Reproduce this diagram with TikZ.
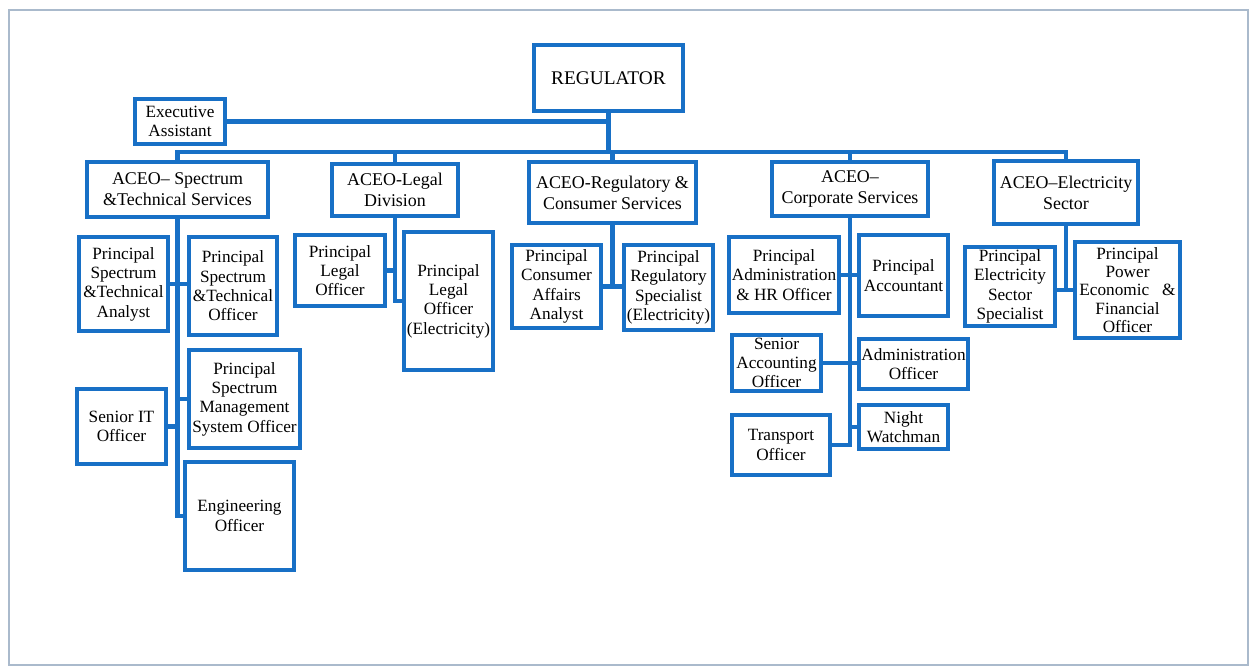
\documentclass[tikz,border=0pt]{standalone}
\usepackage{fontspec}
\setmainfont{Liberation Serif}
\definecolor{orgblue}{RGB}{24,112,198}
\definecolor{framegray}{RGB}{170,186,204}
\tikzset{
  box/.style={draw=orgblue, line width=2.8pt, fill=white, align=center, inner sep=0.5pt, font=\fontsize{9.8}{11}\selectfont},
  head/.style={box, font=\fontsize{10.2}{12}\selectfont},
  wh/.style 2 args={minimum width=#1*0.02cm, minimum height=#2*0.02cm},
  link/.style={draw=orgblue, line width=2.6pt},
}
\begin{document}
\begin{tikzpicture}[x=0.02cm,y=-0.02cm]
\useasboundingbox (0,0) rectangle (1252,666);
\draw[framegray, line width=0.6pt] (9,10) rectangle (1248,665);

\node[box, wh={149}{66}, font=\fontsize{11}{13}\selectfont] (regulator) at (608.5,78) {REGULATOR};
\node[box, wh={90}{45}] (ea) at (180,121.5) {Executive\\Assistant};

%---------------------------------
\node[head, wh={181}{55}] (spec) at (177.5,189.5) {ACEO– Spectrum\\\&Technical Services};
\node[head, wh={126}{52}] (legal) at (395,190) {ACEO-Legal\\Division};
\node[head, wh={167}{61}] (reg) at (612.5,192.5) {ACEO-Regulatory \&\\Consumer Services};
\node[head, wh={156}{54}] (corp) at (850,189) {ACEO–\\Corporate Services};
\node[head, wh={144}{63}] (elec) at (1066,192.5) {ACEO–Electricity\\Sector};

%---------------------------------
\node[box, wh={89}{94}] (psta) at (123.5,284) {Principal\\Spectrum\\\&Technical\\Analyst};
\node[box, wh={88}{98}] (psto) at (233,286) {Principal\\Spectrum\\\&Technical\\Officer};
\node[box, wh={111}{98}] (psmso) at (244.5,399) {Principal\\Spectrum\\Management\\System Officer};
\node[box, wh={89}{75}] (seniorit) at (121.5,426.5) {Senior IT\\Officer};
\node[box, wh={109}{108}] (engoff) at (239.5,516) {Engineering\\Officer};

\node[box, wh={90}{71}] (plo) at (340,270.5) {Principal\\Legal\\Officer};
\node[box, wh={89}{138}] (ploe) at (448.5,301) {Principal\\Legal\\Officer\\(Electricity)};

\node[box, wh={89}{83}] (pcaa) at (556.5,286.5) {Principal\\Consumer\\Affairs\\Analyst};
\node[box, wh={89}{85}] (prse) at (668.5,287.5) {Principal\\Regulatory\\Specialist\\(Electricity)};

\node[box, wh={110}{76}] (pahr) at (784,275) {Principal\\Administration\\\& HR Officer};
\node[box, wh={89}{81}] (pacc) at (903.5,275.5) {Principal\\Accountant};
\node[box, wh={89}{56}] (sao) at (776.5,363) {Senior\\Accounting\\Officer};
\node[box, wh={109}{50}] (admo) at (913.5,364) {Administration\\Officer};
\node[box, wh={98}{60}] (transp) at (781,445) {Transport\\Officer};
\node[box, wh={89}{44}] (nw) at (903.5,427) {Night\\Watchman};

\node[box, wh={90}{79}] (pess) at (1010,286.5) {Principal\\Electricity\\Sector\\Specialist};
\node[box, wh={105}{96}, font=\fontsize{9.8}{10.4}\selectfont] (ppefo) at (1127.5,290) {Principal\\Power\\Economic \ \ \&\\Financial\\Officer};

%---------------------------------
\coordinate (bus) at (608.5,152);
\draw[link] (regulator.south) -- (regulator.south |- bus);
\draw[link] (ea.east) -- (ea.east -| regulator.south);
\draw[link] (spec.north) |- (bus) -| (elec.north);
\draw[link] (legal.north) -- (legal.north |- bus);
\draw[link] (reg.north) -- (reg.north |- bus);
\draw[link] (corp.north) -- (corp.north |- bus);

\draw[link] (spec.south) |- (engoff.west);
\draw[link] (psta.east) -- (psta.east -| psto.west);
\draw[link] (spec.south |- psmso.west) -- (psmso.west);
\draw[link] (seniorit.east) -- (seniorit.east -| spec.south);

\draw[link] (legal.south) |- (ploe.west);
\draw[link] (plo.east) -- (plo.east -| legal.south);

\draw[link] (reg.south) -- (reg.south |- pcaa.east);
\draw[link] (pcaa.east) -- (pcaa.east -| prse.west);

\draw[link] (corp.south) |- (transp.east);
\draw[link] (pahr.east) -- (pahr.east -| pacc.west);
\draw[link] (sao.east) -- (sao.east -| admo.west);
\draw[link] (nw.west) -- (nw.west -| corp.south);

\draw[link] (elec.south) |- (ppefo.west);
\draw[link] (pess.east |- ppefo.west) -- (ppefo.west);

\end{tikzpicture}
\end{document}
